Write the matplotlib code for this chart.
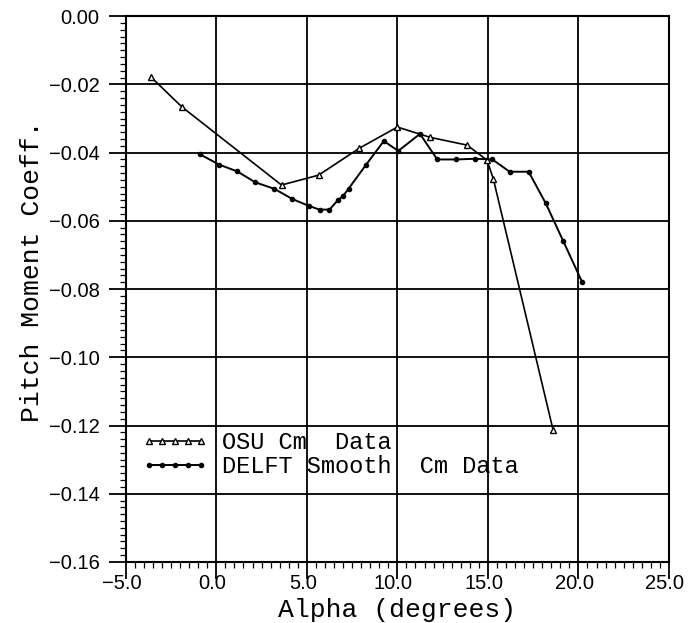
import numpy as np
import matplotlib.pyplot as plt
import matplotlib.transforms as mtransforms
from matplotlib.ticker import MultipleLocator, FuncFormatter

# OSU measured pitching moment
osu_alpha = [-3.6, -1.9, 3.6, 5.65, 7.9, 10.0, 11.8, 13.85, 14.95, 15.3, 18.6]
osu_cm = [-0.0179, -0.0266, -0.0495, -0.0466, -0.0387, -0.0325, -0.0355,
          -0.0378, -0.0422, -0.0477, -0.1213]

# DELFT smoothed pitching moment
delft_alpha = [-0.9, 0.15, 1.15, 2.15, 3.2, 4.2, 5.1, 5.7, 6.25, 6.7, 7.0, 7.3,
               8.25, 9.25, 10.05, 11.25, 12.2, 13.25, 14.3, 15.25, 16.2, 17.25,
               18.2, 19.15, 20.2]
delft_cm = [-0.0405, -0.0435, -0.0455, -0.0487, -0.0506, -0.0536, -0.0556,
            -0.0567, -0.0567, -0.0540, -0.0527, -0.0506, -0.0437, -0.0366,
            -0.0395, -0.0345, -0.0420, -0.0420, -0.0418, -0.0420, -0.0456,
            -0.0456, -0.0549, -0.0658, -0.0779]

mono = 'Liberation Mono'
sans = 'Liberation Sans'


def fmt(decimals):
    def f(v, pos):
        return f'{v:.{decimals}f}'.replace('-', '\u2212')
    return FuncFormatter(f)


fig = plt.figure(figsize=(6.99, 6.23), dpi=100)
ax = fig.add_axes([0.180, 0.098, 0.777, 0.876])

ax.plot(osu_alpha, osu_cm, color='black', lw=1.2, marker='^', ms=5,
        mfc='white', mec='black', mew=1.0, label='OSU Cm  Data')
ax.plot(delft_alpha, delft_cm, color='black', lw=1.4, marker='o', ms=3,
        mfc='black', mec='black', label='DELFT Smooth  Cm Data')

ax.set_xlim(-5, 25)
ax.set_ylim(-0.16, 0.0)
ax.xaxis.set_major_locator(MultipleLocator(5))
ax.xaxis.set_minor_locator(MultipleLocator(0.5))
ax.yaxis.set_major_locator(MultipleLocator(0.02))
ax.yaxis.set_minor_locator(MultipleLocator(0.002))
ax.xaxis.set_major_formatter(fmt(1))
ax.yaxis.set_major_formatter(fmt(2))

ax.grid(True, which='major', color='black', lw=1.3)
for s in ax.spines.values():
    s.set_linewidth(1.5)

ax.tick_params(which='major', direction='out', length=12, width=1.3)
ax.tick_params(which='minor', direction='out', length=4.5, width=0.9)
ax.tick_params(axis='x', which='major', pad=-3)
ax.tick_params(axis='y', which='major', pad=7)

shift = mtransforms.ScaledTranslation(-4 / 100, 0, fig.dpi_scale_trans)
for lbl in ax.get_xticklabels():
    lbl.set_transform(lbl.get_transform() + shift)
for lbl in ax.get_xticklabels() + ax.get_yticklabels():
    lbl.set_fontfamily(sans)
    lbl.set_fontsize(14.5)

ax.set_xlabel('Alpha (degrees)', fontfamily=mono, fontsize=19)
ax.set_ylabel('Pitch Moment Coeff.', fontfamily=mono, fontsize=19)
ax.xaxis.set_label_coords(0.5, -0.066)
ax.yaxis.set_label_coords(-0.15, 0.533)

ax.legend(loc='upper left', bbox_to_anchor=(0.0295, 0.240), frameon=False,
          numpoints=5, handlelength=2.8, handletextpad=0.6, labelspacing=0.05,
          borderpad=0, borderaxespad=0, prop={'family': mono, 'size': 17})

fig.savefig('out.png', dpi=100)
